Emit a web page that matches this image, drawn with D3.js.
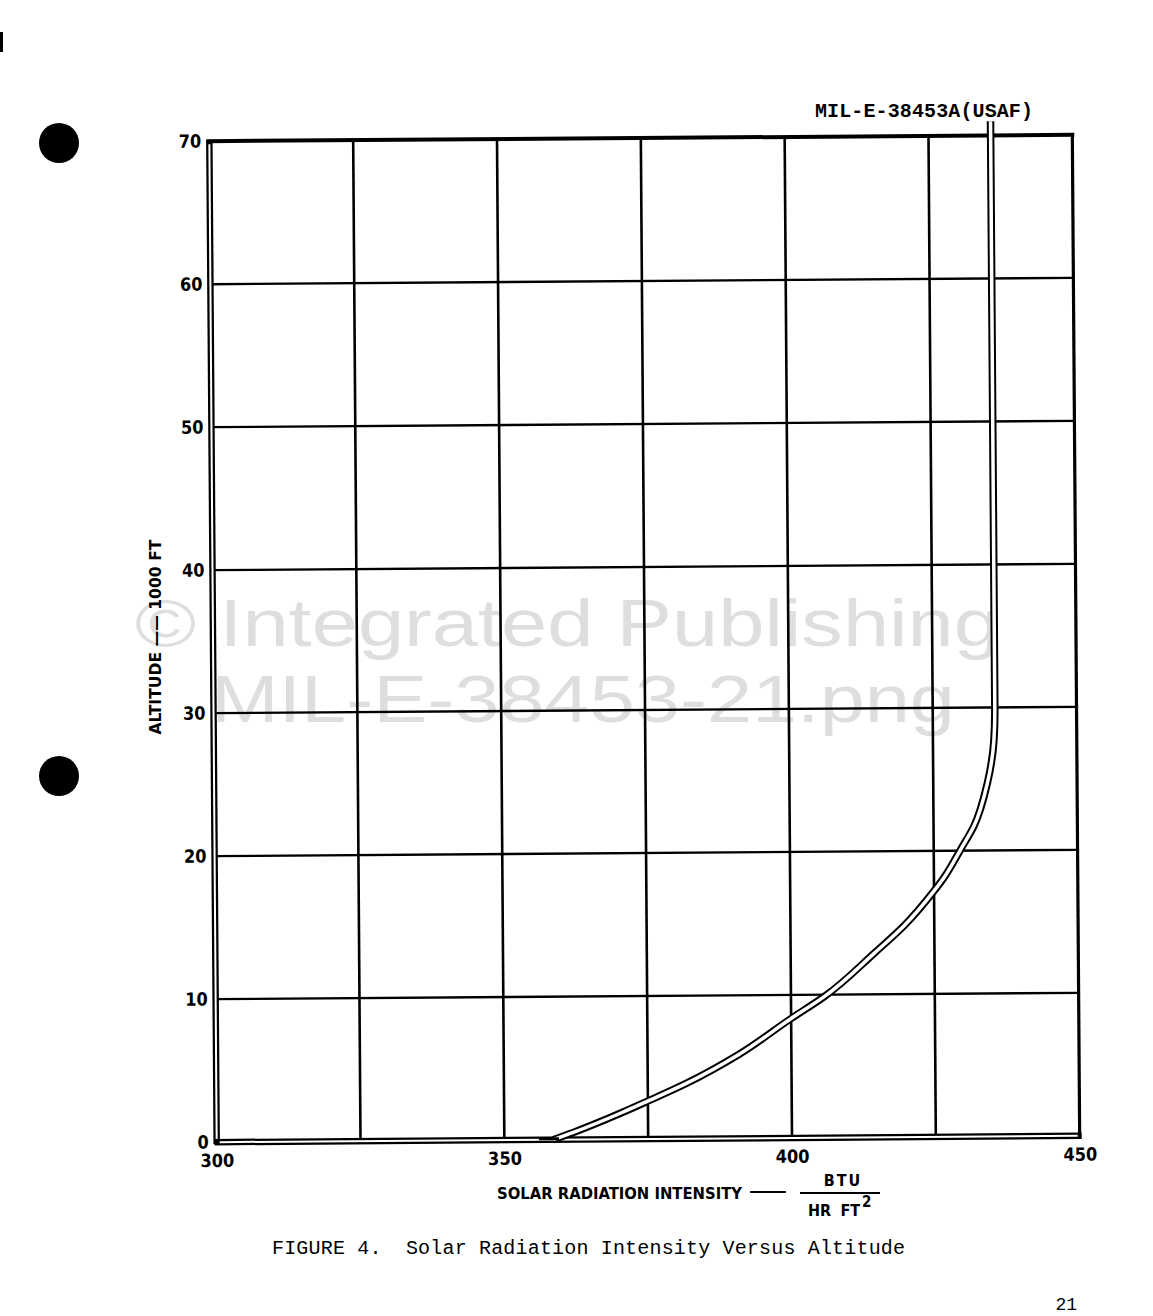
<!DOCTYPE html>
<html>
<head>
<meta charset="utf-8">
<script src="https://cdn.jsdelivr.net/npm/d3@7"></script>
<style>
  html, body { margin: 0; padding: 0; background: #fff; }
  svg { display: block; }
</style>
</head>
<body>
<script>
// ---- data ----
const intensity = [358.5, 362.0, 370.7, 374.7, 381.6, 391.0, 399.8, 405.9, 414.6, 419.8, 425.0, 426.7, 429.7, 432.0, 434.4, 435.6, 435.8, 435.8, 435.8];
const altitude  = [0, 0.5, 1.9, 2.6, 3.85, 5.9, 8.3, 9.9, 12.9, 14.8, 17.2, 18.1, 20.1, 21.7, 24.7, 27.7, 30, 70, 71];
const xTicks = [300, 350, 400, 450];
const xGrid = [325, 350, 375, 400, 425];
const yTicks = [0, 10, 20, 30, 40, 50, 60, 70];
const yGrid = [10, 20, 30, 40, 50, 60];

const W = 1153, H = 1316;
const svg = d3.select("body").append("svg").attr("width", W).attr("height", H);

const condensed = "'DejaVu Sans Condensed', 'Liberation Sans Narrow', 'Arial Narrow', sans-serif";
const mono = "'Liberation Mono', 'DejaVu Sans Mono', monospace";

// watermark
const wm = svg.append("g").attr("fill", "#dedede").attr("font-family", "'Liberation Sans', Arial, sans-serif").attr("font-size", 66);
wm.append("text").attr("x", 135).attr("y", 646).attr("textLength", 865).attr("lengthAdjust", "spacingAndGlyphs").text("\u00A9 Integrated Publishing");
wm.append("text").attr("x", 211).attr("y", 722).attr("textLength", 744).attr("lengthAdjust", "spacingAndGlyphs").text("MIL-E-38453-21.png");

// punch holes
svg.append("circle").attr("cx", 59).attr("cy", 143).attr("r", 20).attr("fill", "#000");
svg.append("circle").attr("cx", 59).attr("cy", 776).attr("r", 20).attr("fill", "#000");
svg.append("rect").attr("x", 0).attr("y", 32).attr("width", 3).attr("height", 20).attr("fill", "#000");

// header
svg.append("text").attr("x", 1033).attr("y", 117).attr("text-anchor", "end")
  .attr("font-family", mono).attr("font-weight", "bold").attr("font-size", 20)
  .attr("textLength", 218).text("MIL-E-38453A(USAF)");

const x = d3.scaleLinear().domain([300, 450]).range([213, 1076]);
const y = d3.scaleLinear().domain([0, 70]).range([1139, 138]);

const g = svg.append("g").attr("transform", "rotate(-0.42 645 638)");

// gridlines
g.append("g").selectAll("line").data(xGrid).join("line")
  .attr("x1", d => x(d)).attr("x2", d => x(d)).attr("y1", y(0)).attr("y2", y(70))
  .attr("stroke", "#000").attr("stroke-width", 2.6);
g.append("g").selectAll("line").data(yGrid).join("line")
  .attr("x1", x(300)).attr("x2", x(450)).attr("y1", d => y(d)).attr("y2", d => y(d))
  .attr("stroke", "#000").attr("stroke-width", 2.4);

// borders
g.append("line").attr("x1", x(300) - 3).attr("x2", x(450) + 2).attr("y1", y(70)).attr("y2", y(70)).attr("stroke", "#000").attr("stroke-width", 4);
g.append("line").attr("x1", x(450)).attr("x2", x(450)).attr("y1", y(70)).attr("y2", y(0)).attr("stroke", "#000").attr("stroke-width", 3.2);
// double-line left and bottom borders
g.append("line").attr("x1", x(300)).attr("x2", x(300)).attr("y1", y(70) - 1).attr("y2", y(0) + 2).attr("stroke", "#000").attr("stroke-width", 6.5);
g.append("line").attr("x1", x(300)).attr("x2", x(300)).attr("y1", y(70) + 3).attr("y2", y(0) - 1).attr("stroke", "#fff").attr("stroke-width", 2);
g.append("line").attr("x1", x(300) - 2).attr("x2", x(450) + 2).attr("y1", y(0)).attr("y2", y(0)).attr("stroke", "#000").attr("stroke-width", 6.5);
g.append("line").attr("x1", x(300) + 3).attr("x2", x(450) - 2).attr("y1", y(0)).attr("y2", y(0)).attr("stroke", "#fff").attr("stroke-width", 2);

// curve (double outline line)
const pts = intensity.map((v, i) => [v, altitude[i]]);
const line = d3.line().x(d => x(d[0])).y(d => y(d[1])).curve(d3.curveMonotoneY);
g.append("path").datum(pts).attr("d", line).attr("fill", "none").attr("stroke", "#000").attr("stroke-width", 7.5).attr("stroke-linejoin", "round");
g.append("path").datum(pts).attr("d", line).attr("fill", "none").attr("stroke", "#fff").attr("stroke-width", 3.5).attr("stroke-linejoin", "round");
// tail along the axis
g.append("line").attr("x1", x(356)).attr("x2", x(359.5)).attr("y1", y(0) - 1).attr("y2", y(0) - 1).attr("stroke", "#000").attr("stroke-width", 3);

// axes
const ax = g.append("g").attr("transform", `translate(0,${y(0)})`)
  .call(d3.axisBottom(x).tickValues(xTicks).tickSize(0).tickPadding(12).tickFormat(d3.format("d")));
const ay = g.append("g").attr("transform", `translate(${x(300)},0)`)
  .call(d3.axisLeft(y).tickValues(yTicks).tickSize(0).tickPadding(8).tickFormat(d3.format("d")));
[ax, ay].forEach(a => {
  a.select(".domain").remove();
  a.selectAll("text").attr("font-family", condensed).attr("font-weight", "bold").attr("font-size", 18).attr("fill", "#000");
});

// axis titles
const t = svg.append("g").attr("font-family", condensed).attr("font-weight", "bold").attr("font-size", 16).attr("fill", "#000");
t.append("text").attr("x", 497).attr("y", 1199).attr("textLength", 245).attr("lengthAdjust", "spacingAndGlyphs").text("SOLAR RADIATION INTENSITY");
t.append("line").attr("x1", 750).attr("x2", 786).attr("y1", 1192).attr("y2", 1192).attr("stroke", "#000").attr("stroke-width", 2);
t.append("line").attr("x1", 800).attr("x2", 880).attr("y1", 1193).attr("y2", 1193).attr("stroke", "#000").attr("stroke-width", 2);
t.append("text").attr("x", 843).attr("y", 1186).attr("text-anchor", "middle").attr("letter-spacing", 2).text("BTU");
t.append("text").attr("x", 808).attr("y", 1216).attr("textLength", 52).attr("xml:space", "preserve").text("HR  FT");
t.append("text").attr("x", 862).attr("y", 1207).attr("font-size", 15).text("2");

t.append("text").attr("transform", "translate(161,637) rotate(-90)").attr("text-anchor", "middle")
  .attr("textLength", 195).attr("lengthAdjust", "spacingAndGlyphs").attr("xml:space", "preserve").text("ALTITUDE \u2014\u2014 1000 FT");

// caption and page number
svg.append("text").attr("x", 272).attr("y", 1254).attr("font-family", mono).attr("font-size", 20)
  .attr("xml:space", "preserve").attr("textLength", 633).text("FIGURE 4.  Solar Radiation Intensity Versus Altitude");
svg.append("text").attr("x", 1077).attr("y", 1310).attr("text-anchor", "end").attr("font-family", mono).attr("font-size", 18).text("21");
</script>
</body>
</html>
